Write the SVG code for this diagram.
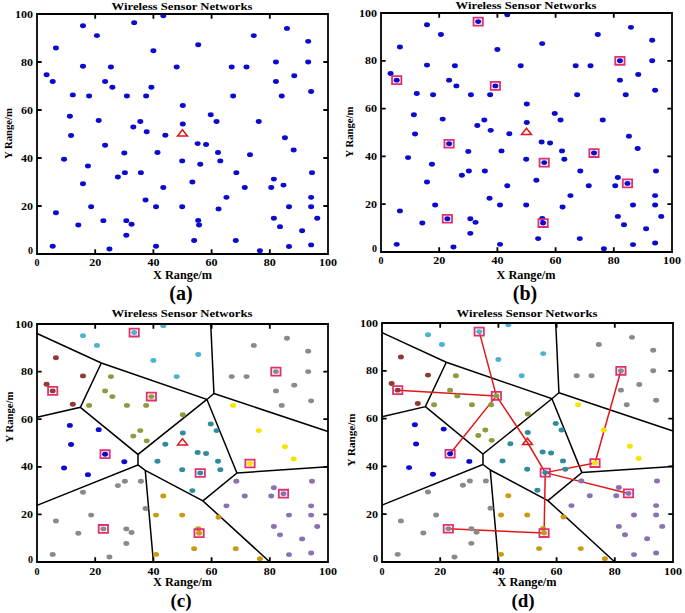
<svg xmlns="http://www.w3.org/2000/svg" width="685" height="613" viewBox="0 0 685 613">
<style>
.t{font-family:"Liberation Serif","Times New Roman",serif;font-weight:bold;fill:#000}
.title{font-size:11px}
.tick{font-size:10px}
.axl{font-size:12px}
.yl{font-size:11px}
.cap{font-size:20px}
.cap2{font-size:19px}
.ns{vector-effect:non-scaling-stroke}
.blue{fill:#0b0bcf}
.cyan{fill:#4ab4cc}
.brown{fill:#8e3b33}
.olive{fill:#8f9a3f}
.bluec{fill:#0a0ad0}
.teal{fill:#2f8c9c}
.yellow{fill:#f2e600}
.gray{fill:#8a8a8a}
.golden{fill:#c99a12}
.purple{fill:#8a72b2}
.box{fill:none;stroke:#e03070;stroke-width:1.8}
.bs{fill:none;stroke:#e01818;stroke-width:1.5}
.vor{fill:none;stroke:#000;stroke-width:1.5}
.link{fill:none;stroke:#e01818;stroke-width:1.5}
.frame{fill:none;stroke:#000;stroke-width:1.8}
</style>
<defs>
<g id="cl-cyan"><circle cx="15.8" cy="95.1" r="1.03"/><circle cx="20.6" cy="91" r="1.03"/><circle cx="33.4" cy="96.4" r="1.03"/><circle cx="43.4" cy="99.3" r="1.03"/><circle cx="40" cy="84.7" r="1.03"/><circle cx="55.4" cy="87.2" r="1.03"/><circle cx="48" cy="77.9" r="1.03"/></g>
<g id="cl-brown"><circle cx="6.5" cy="85.8" r="1.03"/><circle cx="15.8" cy="78.2" r="1.03"/><circle cx="3.3" cy="74.7" r="1.03"/><circle cx="5.4" cy="71.9" r="1.03"/><circle cx="12.3" cy="66.3" r="1.03"/></g>
<g id="cl-olive"><circle cx="25.4" cy="77.9" r="1.03"/><circle cx="23.4" cy="71.9" r="1.03"/><circle cx="25.9" cy="69.5" r="1.03"/><circle cx="39.3" cy="69.5" r="1.03"/><circle cx="17.9" cy="65.8" r="1.03"/><circle cx="30.9" cy="65.8" r="1.03"/><circle cx="37.5" cy="65.8" r="1.03"/><circle cx="50.1" cy="61.9" r="1.03"/><circle cx="35.5" cy="55.2" r="1.03"/><circle cx="33.1" cy="52.9" r="1.03"/><circle cx="37.7" cy="50.9" r="1.03"/></g>
<g id="cl-blue"><circle cx="11.3" cy="57.4" r="1.03"/><circle cx="21.2" cy="55.6" r="1.03"/><circle cx="11.7" cy="49.4" r="1.03"/><circle cx="23.4" cy="45.3" r="1.03"/><circle cx="30" cy="42.1" r="1.03"/><circle cx="9.3" cy="39.5" r="1.03"/><circle cx="17.5" cy="36.7" r="1.03"/></g>
<g id="cl-teal"><circle cx="50.1" cy="54.2" r="1.03"/><circle cx="44.1" cy="49.5" r="1.03"/><circle cx="59.7" cy="58" r="1.03"/><circle cx="61.7" cy="55.2" r="1.03"/><circle cx="55.2" cy="46" r="1.03"/><circle cx="58.1" cy="45.6" r="1.03"/><circle cx="41.4" cy="42.3" r="1.03"/><circle cx="62.2" cy="42.3" r="1.03"/><circle cx="49.9" cy="38.8" r="1.03"/><circle cx="56.1" cy="37.4" r="1.03"/><circle cx="63" cy="38.8" r="1.03"/><circle cx="53.4" cy="30" r="1.03"/></g>
<g id="cl-yellow"><circle cx="67.4" cy="65.8" r="1.03"/><circle cx="76.2" cy="55.2" r="1.03"/><circle cx="85.2" cy="48.4" r="1.03"/><circle cx="88.2" cy="43.3" r="1.03"/><circle cx="73.2" cy="41.4" r="1.03"/></g>
<g id="cl-grayur"><circle cx="74.5" cy="91" r="1.03"/><circle cx="85.9" cy="94" r="1.03"/><circle cx="93.2" cy="88.6" r="1.03"/><circle cx="66.9" cy="77.9" r="1.03"/><circle cx="72" cy="77.9" r="1.03"/><circle cx="82.1" cy="80" r="1.03"/><circle cx="93.2" cy="80" r="1.03"/><circle cx="88.4" cy="74.3" r="1.03"/><circle cx="82.1" cy="71.9" r="1.03"/><circle cx="84.1" cy="65.8" r="1.03"/><circle cx="94.2" cy="67.7" r="1.03"/></g>
<g id="cl-grayll"><circle cx="15.8" cy="29.3" r="1.03"/><circle cx="27.8" cy="32.1" r="1.03"/><circle cx="30.2" cy="33.9" r="1.03"/><circle cx="35.7" cy="33.9" r="1.03"/><circle cx="37.3" cy="22.5" r="1.03"/><circle cx="6.5" cy="17.2" r="1.03"/><circle cx="18.6" cy="19.7" r="1.03"/><circle cx="14.2" cy="12.1" r="1.03"/><circle cx="22.8" cy="13.9" r="1.03"/><circle cx="30.7" cy="13.9" r="1.03"/><circle cx="32.5" cy="12.4" r="1.03"/><circle cx="30.7" cy="7.8" r="1.03"/><circle cx="5.4" cy="3.2" r="1.03"/><circle cx="24.9" cy="2.1" r="1.03"/></g>
<g id="cl-golden"><circle cx="43.4" cy="27.7" r="1.03"/><circle cx="40.9" cy="19.7" r="1.03"/><circle cx="49.9" cy="19.7" r="1.03"/><circle cx="62.4" cy="18.8" r="1.03"/><circle cx="55.4" cy="14" r="1.03"/><circle cx="55.7" cy="12.1" r="1.03"/><circle cx="54" cy="5.6" r="1.03"/><circle cx="40.9" cy="3.2" r="1.03"/><circle cx="68.3" cy="5.6" r="1.03"/><circle cx="76.6" cy="1.4" r="1.03"/></g>
<g id="cl-purple"><circle cx="68.5" cy="33.9" r="1.03"/><circle cx="71.4" cy="27.7" r="1.03"/><circle cx="65.1" cy="23.6" r="1.03"/><circle cx="81.4" cy="31.2" r="1.03"/><circle cx="80.5" cy="27.7" r="1.03"/><circle cx="84.7" cy="28.7" r="1.03"/><circle cx="94.5" cy="33.9" r="1.03"/><circle cx="94.2" cy="23.6" r="1.03"/><circle cx="86.6" cy="19.7" r="1.03"/><circle cx="94.2" cy="19.7" r="1.03"/><circle cx="96.3" cy="14.9" r="1.03"/><circle cx="81.4" cy="14.9" r="1.03"/><circle cx="83.5" cy="11.4" r="1.03"/><circle cx="91.1" cy="9.7" r="1.03"/><circle cx="94.2" cy="3.8" r="1.03"/><circle cx="86.6" cy="3.1" r="1.03"/></g>
<g id="all-dots"><use href="#cl-cyan"/><use href="#cl-brown"/><use href="#cl-olive"/><use href="#cl-blue"/><use href="#cl-teal"/><use href="#cl-yellow"/><use href="#cl-grayur"/><use href="#cl-grayll"/><use href="#cl-golden"/><use href="#cl-purple"/></g>
<g id="colored-dots"><use href="#cl-cyan" class="cyan"/><use href="#cl-brown" class="brown"/><use href="#cl-olive" class="olive"/><use href="#cl-blue" class="bluec"/><use href="#cl-teal" class="teal"/><use href="#cl-yellow" class="yellow"/><use href="#cl-grayur" class="gray"/><use href="#cl-grayll" class="gray"/><use href="#cl-golden" class="golden"/><use href="#cl-purple" class="purple"/></g>
<g id="heads"><rect class="box ns" x="31.8" y="94.75" width="3.2" height="3.3"/><rect class="box ns" x="3.8" y="70.25" width="3.2" height="3.3"/><rect class="box ns" x="37.7" y="67.85" width="3.2" height="3.3"/><rect class="box ns" x="21.8" y="43.65" width="3.2" height="3.3"/><rect class="box ns" x="54.5" y="35.75" width="3.2" height="3.3"/><rect class="box ns" x="71.6" y="39.75" width="3.2" height="3.3"/><rect class="box ns" x="80.5" y="78.35" width="3.2" height="3.3"/><rect class="box ns" x="21.2" y="12.25" width="3.2" height="3.3"/><rect class="box ns" x="54.1" y="10.45" width="3.2" height="3.3"/><rect class="box ns" x="83.1" y="27.05" width="3.2" height="3.3"/></g>
<polygon id="bs" class="bs ns" points="50,51.8 48.3,49.2 51.7,49.2"/>
<g id="voronoi"><path class="vor ns" d="M0 96 L22.1 83.6 L58.4 68.3 L60.8 70.8 L59.7 100 M60.8 70.8 L100 54.8 M22.1 83.6 L14.9 65 L0 60.8 M14.9 65 L34.7 45.2 L58.4 68.3 M34.7 45.2 L34.7 40.8 L0 23.8 M34.7 40.8 L37.2 38.5 L40 0 M37.2 38.5 L57 25.7 L80 0 M57 25.7 L68.7 37.4 L58.4 68.3 M68.7 37.4 L100 40"/></g>
<g id="frame"><rect class="frame ns" x="0" y="0" width="100" height="100"/><path class="frame ns" d="M20 0V2M40 0V2M60 0V2M80 0V2M20 100V98M40 100V98M60 100V98M80 100V98M0 20H1.6M0 40H1.6M0 60H1.6M0 80H1.6M100 20H98.4M100 40H98.4M100 60H98.4M100 80H98.4"/></g>
</defs>
<rect x="0" y="0" width="685" height="613" fill="#fff"/>

<g id="panel-a">
<g transform="translate(37,254) scale(2.91,-2.4)">
<use href="#all-dots" class="blue"/>
<use href="#bs"/>
<use href="#frame"/>
</g>
<text class="t title" x="182" y="9.5" text-anchor="middle" textLength="141" lengthAdjust="spacingAndGlyphs">Wireless Sensor Networks</text>
<g class="t tick" text-anchor="middle"><text x="37" y="266">0</text><text x="95.2" y="266" textLength="12" lengthAdjust="spacingAndGlyphs">20</text><text x="153.4" y="266" textLength="12" lengthAdjust="spacingAndGlyphs">40</text><text x="211.6" y="266" textLength="12" lengthAdjust="spacingAndGlyphs">60</text><text x="269.8" y="266" textLength="12" lengthAdjust="spacingAndGlyphs">80</text><text x="328" y="266" textLength="18" lengthAdjust="spacingAndGlyphs">100</text></g>
<g class="t tick" text-anchor="end"><text x="33" y="253.5">0</text><text x="33" y="209.5" textLength="12" lengthAdjust="spacingAndGlyphs">20</text><text x="33" y="161.5" textLength="12" lengthAdjust="spacingAndGlyphs">40</text><text x="33" y="113.5" textLength="12" lengthAdjust="spacingAndGlyphs">60</text><text x="33" y="65.5" textLength="12" lengthAdjust="spacingAndGlyphs">80</text><text x="33" y="17.5" textLength="18" lengthAdjust="spacingAndGlyphs">100</text></g>
<text class="t axl" x="182.5" y="279" text-anchor="middle" textLength="59" lengthAdjust="spacingAndGlyphs">X Range/m</text>
<text class="t yl" transform="translate(11.5,133.5) rotate(-90)" text-anchor="middle" textLength="51" lengthAdjust="spacingAndGlyphs">Y Range/m</text>
<text class="t cap" x="181" y="300" text-anchor="middle">(a)</text>
</g>

<g id="panel-b">
<g transform="translate(381,252) scale(2.91,-2.39)">
<use href="#all-dots" class="blue"/>
<use href="#heads"/>
<use href="#bs"/>
<use href="#frame"/>
</g>
<text class="t title" x="526" y="8.5" text-anchor="middle" textLength="141" lengthAdjust="spacingAndGlyphs">Wireless Sensor Networks</text>
<g class="t tick" text-anchor="middle"><text x="381" y="264">0</text><text x="439.2" y="264" textLength="12" lengthAdjust="spacingAndGlyphs">20</text><text x="497.4" y="264" textLength="12" lengthAdjust="spacingAndGlyphs">40</text><text x="555.6" y="264" textLength="12" lengthAdjust="spacingAndGlyphs">60</text><text x="613.8" y="264" textLength="12" lengthAdjust="spacingAndGlyphs">80</text><text x="672" y="264" textLength="18" lengthAdjust="spacingAndGlyphs">100</text></g>
<g class="t tick" text-anchor="end"><text x="377" y="251.8">0</text><text x="377" y="207.7" textLength="12" lengthAdjust="spacingAndGlyphs">20</text><text x="377" y="159.9" textLength="12" lengthAdjust="spacingAndGlyphs">40</text><text x="377" y="112.1" textLength="12" lengthAdjust="spacingAndGlyphs">60</text><text x="377" y="64.3" textLength="12" lengthAdjust="spacingAndGlyphs">80</text><text x="377" y="16.5" textLength="18" lengthAdjust="spacingAndGlyphs">100</text></g>
<text class="t axl" x="526" y="278.5" text-anchor="middle" textLength="59" lengthAdjust="spacingAndGlyphs">X Range/m</text>
<text class="t yl" transform="translate(353,132) rotate(-90)" text-anchor="middle" textLength="51" lengthAdjust="spacingAndGlyphs">Y Range/m</text>
<text class="t cap" x="525" y="300" text-anchor="middle">(b)</text>
</g>

<g id="panel-c">
<g transform="translate(37,562) scale(2.91,-2.38)">
<use href="#voronoi"/>
<use href="#colored-dots"/>
<use href="#heads"/>
<use href="#bs"/>
<use href="#frame"/>
</g>
<text class="t title" x="182" y="317" text-anchor="middle" textLength="141" lengthAdjust="spacingAndGlyphs">Wireless Sensor Networks</text>
<g class="t tick" text-anchor="middle"><text x="37" y="575">0</text><text x="95.2" y="575" textLength="12" lengthAdjust="spacingAndGlyphs">20</text><text x="153.4" y="575" textLength="12" lengthAdjust="spacingAndGlyphs">40</text><text x="211.6" y="575" textLength="12" lengthAdjust="spacingAndGlyphs">60</text><text x="269.8" y="575" textLength="12" lengthAdjust="spacingAndGlyphs">80</text><text x="328" y="575" textLength="18" lengthAdjust="spacingAndGlyphs">100</text></g>
<g class="t tick" text-anchor="end"><text x="33" y="562.5">0</text><text x="33" y="517.9" textLength="12" lengthAdjust="spacingAndGlyphs">20</text><text x="33" y="470.3" textLength="12" lengthAdjust="spacingAndGlyphs">40</text><text x="33" y="422.7" textLength="12" lengthAdjust="spacingAndGlyphs">60</text><text x="33" y="375.1" textLength="12" lengthAdjust="spacingAndGlyphs">80</text><text x="33" y="327.5" textLength="18" lengthAdjust="spacingAndGlyphs">100</text></g>
<text class="t axl" x="182.5" y="586" text-anchor="middle" textLength="59" lengthAdjust="spacingAndGlyphs">X Range/m</text>
<text class="t yl" transform="translate(12.5,417) rotate(-90)" text-anchor="middle" textLength="51" lengthAdjust="spacingAndGlyphs">Y Range/m</text>
<text class="t cap2" x="181" y="607" text-anchor="middle">(c)</text>
</g>

<g id="panel-d">
<g transform="translate(382,562) scale(2.91,-2.39)">
<use href="#voronoi"/>
<g id="connectors">
<path class="link ns" d="M33.4 96.4L39.3 69.5M5.4 71.9L39.3 69.5M23.4 45.3L39.3 69.5M39.3 69.5L50 50M50 50L56.1 37.4M56.1 37.4L55.7 12.1M22.8 13.9L55.7 12.1M56.1 37.4L73.2 41.4M56.1 37.4L84.7 28.7M73.2 41.4L82.1 80"/>
</g>
<use href="#colored-dots"/>
<use href="#heads"/>
<use href="#bs"/>
<use href="#frame"/>
</g>
<text class="t title" x="527" y="316.5" text-anchor="middle" textLength="141" lengthAdjust="spacingAndGlyphs">Wireless Sensor Networks</text>
<g class="t tick" text-anchor="middle"><text x="382" y="575">0</text><text x="440.2" y="575" textLength="12" lengthAdjust="spacingAndGlyphs">20</text><text x="498.4" y="575" textLength="12" lengthAdjust="spacingAndGlyphs">40</text><text x="556.6" y="575" textLength="12" lengthAdjust="spacingAndGlyphs">60</text><text x="614.8" y="575" textLength="12" lengthAdjust="spacingAndGlyphs">80</text><text x="673" y="575" textLength="18" lengthAdjust="spacingAndGlyphs">100</text></g>
<g class="t tick" text-anchor="end"><text x="378" y="562">0</text><text x="378" y="517.7" textLength="12" lengthAdjust="spacingAndGlyphs">20</text><text x="378" y="469.9" textLength="12" lengthAdjust="spacingAndGlyphs">40</text><text x="378" y="422.1" textLength="12" lengthAdjust="spacingAndGlyphs">60</text><text x="378" y="374.3" textLength="12" lengthAdjust="spacingAndGlyphs">80</text><text x="378" y="326.5" textLength="18" lengthAdjust="spacingAndGlyphs">100</text></g>
<text class="t axl" x="527" y="586" text-anchor="middle" textLength="59" lengthAdjust="spacingAndGlyphs">X Range/m</text>
<text class="t yl" transform="translate(355,440) rotate(-90)" text-anchor="middle" textLength="53" lengthAdjust="spacingAndGlyphs">Y Range/m</text>
<text class="t cap2" x="523" y="607" text-anchor="middle">(d)</text>
</g>
</svg>
